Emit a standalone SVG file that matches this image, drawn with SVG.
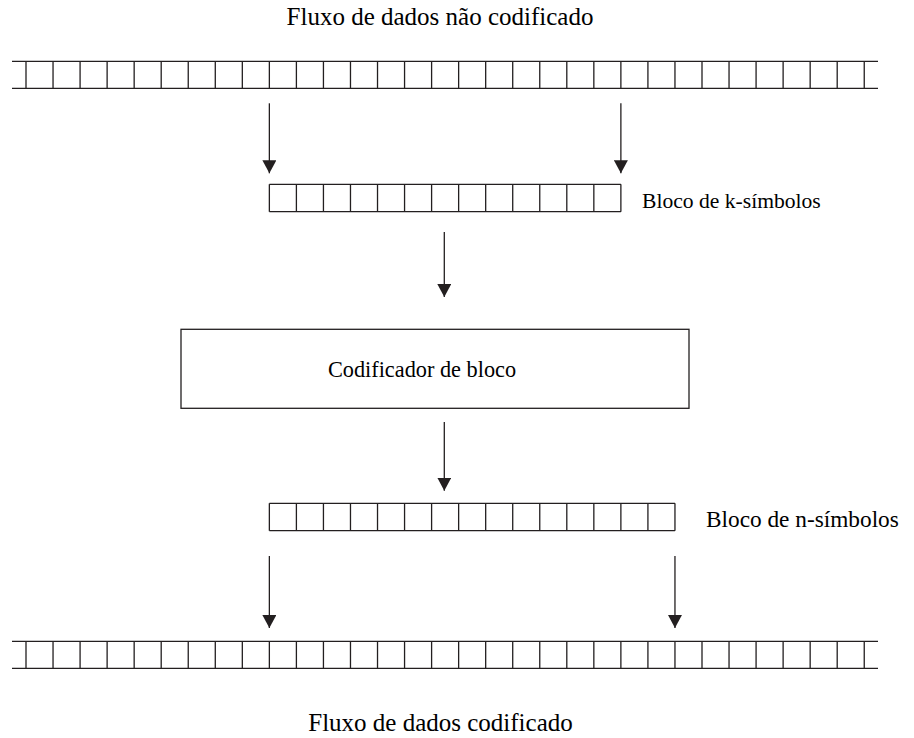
<svg xmlns="http://www.w3.org/2000/svg" width="914" height="738" viewBox="0 0 914 738">
<style>
.ln{fill:none;stroke:#231f20;stroke-width:1.3}
.t{font-family:"Liberation Serif","Times New Roman",serif;fill:#000}
</style>
<defs>
<marker id="ah" markerUnits="userSpaceOnUse" markerWidth="14" markerHeight="14" viewBox="0 0 14 14" refX="13" refY="7" orient="auto">
<path d="M0,0 L13,7 L0,14 Z" fill="#231f20"/>
</marker>
</defs>
<rect width="914" height="738" fill="#fff"/>
<g id="title-top"><text class="t" x="440" y="25" font-size="25" text-anchor="middle">Fluxo de dados não codificado</text></g>
<g id="stream-top">
<path class="ln" d="M12,61.3H878M12,88.3H878M26,61.3v27M53.04,61.3v27M80.08,61.3v27M107.12,61.3v27M134.16,61.3v27M161.2,61.3v27M188.24,61.3v27M215.28,61.3v27M242.32,61.3v27M269.36,61.3v27M296.4,61.3v27M323.44,61.3v27M350.48,61.3v27M377.52,61.3v27M404.56,61.3v27M431.6,61.3v27M458.64,61.3v27M485.68,61.3v27M512.72,61.3v27M539.76,61.3v27M566.8,61.3v27M593.84,61.3v27M620.88,61.3v27M647.92,61.3v27M674.96,61.3v27M702,61.3v27M729.04,61.3v27M756.08,61.3v27M783.12,61.3v27M810.16,61.3v27M837.2,61.3v27M864.24,61.3v27"/>
</g>
<g id="block-k">
<path class="ln" d="M269.36,184.3H620.88M269.36,211.7H620.88M269.36,184.3V211.7M296.4,184.3V211.7M323.44,184.3V211.7M350.48,184.3V211.7M377.52,184.3V211.7M404.56,184.3V211.7M431.6,184.3V211.7M458.64,184.3V211.7M485.68,184.3V211.7M512.72,184.3V211.7M539.76,184.3V211.7M566.8,184.3V211.7M593.84,184.3V211.7M620.88,184.3V211.7"/>
<text class="t" x="642" y="208" font-size="21.6">Bloco de k-símbolos</text>
</g>
<g id="encoder">
<rect class="ln" x="181" y="329.3" width="508" height="79"/>
<text class="t" x="422" y="377" font-size="22.3" text-anchor="middle">Codificador de bloco</text>
</g>
<g id="block-n">
<path class="ln" d="M269.36,503.3H674.96M269.36,530.7H674.96M269.36,503.3V530.7M296.4,503.3V530.7M323.44,503.3V530.7M350.48,503.3V530.7M377.52,503.3V530.7M404.56,503.3V530.7M431.6,503.3V530.7M458.64,503.3V530.7M485.68,503.3V530.7M512.72,503.3V530.7M539.76,503.3V530.7M566.8,503.3V530.7M593.84,503.3V530.7M620.88,503.3V530.7M647.92,503.3V530.7M674.96,503.3V530.7"/>
<text class="t" x="706" y="527" font-size="23.3">Bloco de n-símbolos</text>
</g>
<g id="stream-bottom">
<path class="ln" d="M12,641.3H878M12,668.3H878M26,641.3v27M53.04,641.3v27M80.08,641.3v27M107.12,641.3v27M134.16,641.3v27M161.2,641.3v27M188.24,641.3v27M215.28,641.3v27M242.32,641.3v27M269.36,641.3v27M296.4,641.3v27M323.44,641.3v27M350.48,641.3v27M377.52,641.3v27M404.56,641.3v27M431.6,641.3v27M458.64,641.3v27M485.68,641.3v27M512.72,641.3v27M539.76,641.3v27M566.8,641.3v27M593.84,641.3v27M620.88,641.3v27M647.92,641.3v27M674.96,641.3v27M702,641.3v27M729.04,641.3v27M756.08,641.3v27M783.12,641.3v27M810.16,641.3v27M837.2,641.3v27M864.24,641.3v27"/>
</g>
<g id="title-bottom"><text class="t" x="440.5" y="731" font-size="25" text-anchor="middle">Fluxo de dados codificado</text></g>
<g id="connectors">
<path d="M269.36,103.3V173.3" class="ln" marker-end="url(#ah)"/>
<path d="M620.88,103.3V173.3" class="ln" marker-end="url(#ah)"/>
<path d="M444.3,232V297" class="ln" marker-end="url(#ah)"/>
<path d="M444.3,422V490.7" class="ln" marker-end="url(#ah)"/>
<path d="M269.36,556V628" class="ln" marker-end="url(#ah)"/>
<path d="M674.96,556V628" class="ln" marker-end="url(#ah)"/>
</g>
</svg>
